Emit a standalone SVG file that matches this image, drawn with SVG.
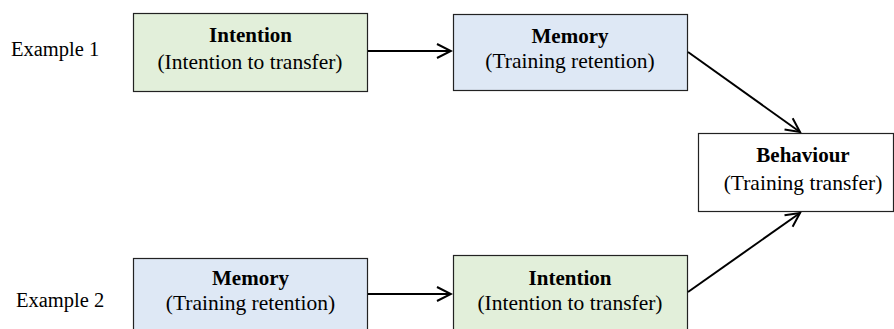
<svg xmlns="http://www.w3.org/2000/svg" width="894" height="329" viewBox="0 0 894 329">
  <style>
    text { font-family: "Liberation Serif", "Times New Roman", serif; fill: #000; }
    .title { font-size: 21px; font-weight: bold; text-anchor: middle; }
    .sub { font-size: 21.5px; text-anchor: middle; }
    .side { font-size: 20.5px; }
    .box { stroke: #222; stroke-width: 1.2; }
    .intent { fill: #e2efda; }
    .memory { fill: #dee8f5; }
    .plain { fill: #ffffff; }
    .link { stroke: #000; stroke-width: 2; fill: none; marker-end: url(#chev); }
  </style>
  <defs>
    <marker id="chev" markerUnits="userSpaceOnUse" viewBox="-16 -9 18 18" refX="0" refY="0" markerWidth="18" markerHeight="18" orient="auto">
      <path d="M-14,-7 L0,0 L-14,7" fill="none" stroke="#000" stroke-width="2"/>
    </marker>
  </defs>
  <rect width="894" height="329" fill="#ffffff"/>

  <text class="side" x="11" y="56">Example 1</text>
  <text class="side" x="16" y="307">Example 2</text>

  <g id="intention1">
    <rect class="box intent" x="133.5" y="13.5" width="234" height="78"/>
    <text class="title" x="250.5" y="42">Intention</text>
    <text class="sub" x="250" y="69">(Intention to transfer)</text>
  </g>
  <g id="memory1">
    <rect class="box memory" x="453.5" y="14.5" width="234" height="76"/>
    <text class="title" x="570" y="43">Memory</text>
    <text class="sub" x="570" y="68">(Training retention)</text>
  </g>
  <g id="behaviour">
    <rect class="box plain" x="698.5" y="133.5" width="195" height="78"/>
    <text class="title" x="803" y="162">Behaviour</text>
    <text class="sub" x="803" y="190">(Training transfer)</text>
  </g>
  <g id="memory2">
    <rect class="box memory" x="133.5" y="258.5" width="234" height="80"/>
    <text class="title" x="250.5" y="285">Memory</text>
    <text class="sub" x="250.5" y="310">(Training retention)</text>
  </g>
  <g id="intention2">
    <rect class="box intent" x="453.5" y="255.5" width="234" height="80"/>
    <text class="title" x="570" y="285">Intention</text>
    <text class="sub" x="570" y="310">(Intention to transfer)</text>
  </g>

  <g id="connectors">
    <line class="link" x1="368" y1="51" x2="451" y2="51"/>
    <line class="link" x1="688" y1="52" x2="800" y2="132"/>
    <line class="link" x1="368" y1="294" x2="451" y2="294"/>
    <line class="link" x1="688" y1="292" x2="800" y2="213"/>
  </g>
</svg>
